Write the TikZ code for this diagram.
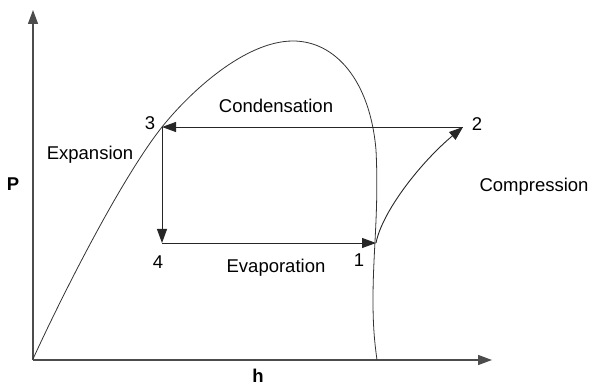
\documentclass[tikz,border=0pt]{standalone}
\usepackage{fontspec}
\setmainfont{Liberation Sans}
\usetikzlibrary{arrows.meta}
\begin{document}
\begin{tikzpicture}[x=1pt,y=-1pt,
  lbl/.style={inner sep=0pt,font=\fontsize{18.5}{22}\selectfont},
  axis/.style={line width=1.3pt,draw=black!70,-{Triangle[length=14pt,width=10pt]}},
  dome/.style={line width=0.8pt,draw=black!80},
  cyc/.style={line width=0.9pt,draw=black!85,-{Triangle[length=14pt,width=10pt]}}]
\useasboundingbox (0,0) rectangle (592,387);
% axes
\coordinate (O) at (33,360);
\coordinate (Ptop) at (33,10);
\coordinate (Hend) at (492,360);
\draw[axis] (O) -- (Ptop);
\draw[axis] (O) -- (Hend);
% cycle points
\coordinate (p1) at (376,243);
\coordinate (p2) at (463,127);
\coordinate (p3) at (162,127);
\coordinate (p4) at (162,243);
% saturation dome
\coordinate (top) at (293,41);
\coordinate (r1) at (376,150);
\coordinate (r2) at (373,300);
\coordinate (rb) at (377,360);
\draw[dome] (33,359) .. controls (60,300) and (120,180) .. (p3)
  .. controls (190,92) and (245,41) .. (top)
  .. controls (335,41) and (370,80) .. (r1)
  .. controls (379,210) and (373,250) .. (r2)
  .. controls (373,330) and (375,345) .. (rb);
\draw[cyc] (p2) -- (p3);
\draw[cyc] (p3) -- (p4);
\draw[cyc] (p4) -- (p1);
\draw[cyc] (p1) .. controls (382,212) and (420,163) .. (p2);
% labels
\node[lbl] (n3) at (150,123) {3};
\node[lbl] (n2) at (477,124) {2};
\node[lbl] (n4) at (158,262) {4};
\node[lbl] (n1) at (359,260) {1};
\node[lbl] (cond) at (276,106) {Condensation};
\node[lbl] (exp) at (90,155) {Expansion};
\node[lbl] (comp) at (534,187) {Compression};
\node[lbl] (evap) at (276,268) {Evaporation};
\node[lbl,font=\fontsize{18.5}{22}\bfseries] (P) at (13,184) {P};
\node[lbl,font=\fontsize{18.5}{22}\bfseries] (h) at (258,376) {h};
\end{tikzpicture}
\end{document}
